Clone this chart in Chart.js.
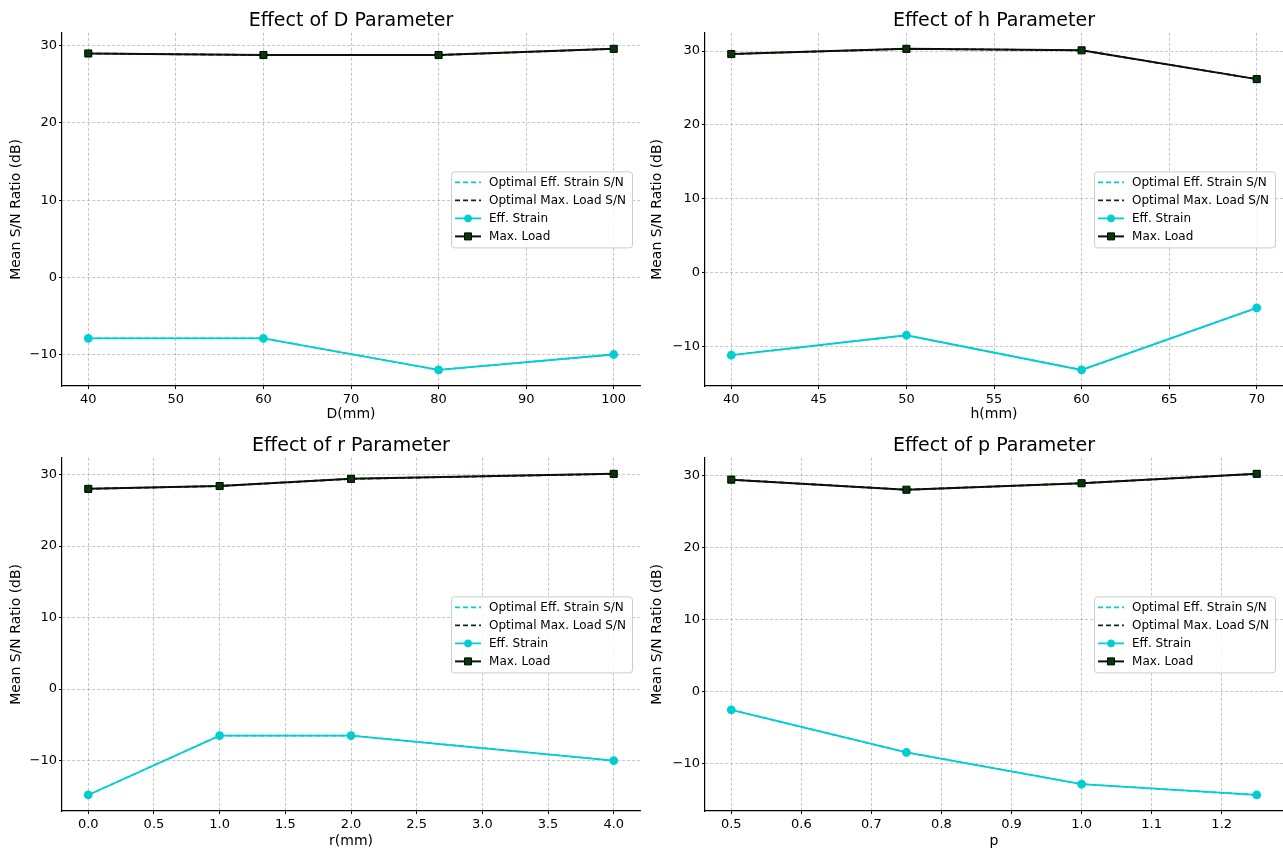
<!DOCTYPE html>
<html>
<head>
<meta charset="utf-8">
<script src="https://cdn.jsdelivr.net/npm/chart.js@4.4.0/dist/chart.umd.min.js"></script>
<style>
  body { margin: 0; background: #fff; width: 1283px; height: 851px; position: relative; overflow: hidden; }
  .panel { position: absolute; }
</style>
</head>
<body>
<div class="panel" style="left:0;top:0"><canvas id="cD" width="642" height="425"></canvas></div>
<div class="panel" style="left:642px;top:0"><canvas id="cH" width="641" height="425"></canvas></div>
<div class="panel" style="left:0;top:425px"><canvas id="cR" width="642" height="426"></canvas></div>
<div class="panel" style="left:642px;top:425px"><canvas id="cP" width="641" height="426"></canvas></div>
<script>
// values
const dLevels = [40, 60, 80, 100];
const dStrain = [-7.9, -7.9, -12.0, -10.0];
const dLoad = [29.0, 28.8, 28.8, 29.6];
const dTicks = [40, 50, 60, 70, 80, 90, 100];

const hLevels = [40, 50, 60, 70];
const hStrain = [-11.2, -8.5, -13.2, -4.8];
const hLoad = [29.6, 30.3, 30.1, 26.2];
const hTicks = [40, 45, 50, 55, 60, 65, 70];

const rLevels = [0, 1, 2, 4];
const rStrain = [-14.8, -6.5, -6.5, -10.0];
const rLoad = [28.0, 28.4, 29.4, 30.1];
const rTicks = [0, 0.5, 1, 1.5, 2, 2.5, 3, 3.5, 4];

const pLevels = [0.5, 0.75, 1.0, 1.25];
const pStrain = [-2.5, -8.4, -12.8, -14.3];
const pLoad = [29.4, 28.0, 28.9, 30.2];
const pTicks = [0.5, 0.6, 0.7, 0.8, 0.9, 1.0, 1.1, 1.2];

const yTicks = [-10, 0, 10, 20, 30];
const legendLabels = ['Optimal Eff. Strain S/N', 'Optimal Max. Load S/N', 'Eff. Strain', 'Max. Load'];

const CYAN = '#00CED1';
const LOAD_LINE = '#061406';
const LOAD_MARK = '#063806';
const GRID = 'rgba(160,160,160,0.75)';

Chart.defaults.font.family = '"DejaVu Sans", sans-serif';
Chart.defaults.color = '#000';

// matplotlib style 5% margins
function padRange(vals) {
  const lo = Math.min(...vals), hi = Math.max(...vals);
  const m = (hi - lo) * 0.05;
  return [lo - m, hi + m];
}

function fmt(v, dec) {
  return Number(v).toFixed(dec).replace('-', '\u2212');
}

// legend box drawn inside the plot, centre right like matplotlib
const legendBox = {
  id: 'legendBox',
  afterDraw(chart) {
    const { ctx, chartArea } = chart;
    const ds = chart.data.datasets;
    ctx.save();
    ctx.font = '12px "DejaVu Sans"';
    const textW = Math.max(...ds.map(d => ctx.measureText(d.label).width));
    const w = 38 + textW + 6, h = 76;
    const x = chartArea.right - 8 - w;
    const y = (chartArea.top + chartArea.bottom) / 2 - h / 2;
    ctx.beginPath();
    ctx.roundRect(x + 0.5, y + 0.5, w, h, 3);
    ctx.fillStyle = 'rgba(255,255,255,0.85)';
    ctx.fill();
    ctx.strokeStyle = '#cccccc';
    ctx.lineWidth = 1;
    ctx.stroke();
    ds.forEach((d, i) => {
      const cy = y + 11 + i * 18;
      ctx.beginPath();
      ctx.setLineDash(d.borderDash || []);
      ctx.strokeStyle = d.borderColor;
      ctx.lineWidth = d.borderWidth;
      ctx.moveTo(x + 4, cy);
      ctx.lineTo(x + 30, cy);
      ctx.stroke();
      ctx.setLineDash([]);
      if (d.pointRadius) {
        ctx.fillStyle = d.pointBackgroundColor;
        ctx.strokeStyle = d.pointBorderColor;
        ctx.lineWidth = 1;
        ctx.beginPath();
        if (d.pointStyle === 'rect') {
          ctx.rect(x + 17 - 3.5, cy - 3.5, 7, 7);
        } else {
          ctx.arc(x + 17, cy, 3.5, 0, Math.PI * 2);
        }
        ctx.fill();
        ctx.stroke();
      }
      ctx.fillStyle = '#000';
      ctx.textBaseline = 'middle';
      ctx.fillText(d.label, x + 38, cy);
    });
    ctx.restore();
  }
};

function makeChart(id, title, xLabel, levels, strain, load, xTicks, dec, yAxisW, xAxisH, padRight, yTitlePad, xTitlePad) {
  const strainPts = levels.map((x, i) => ({ x, y: strain[i] }));
  const loadPts = levels.map((x, i) => ({ x, y: load[i] }));
  const xr = padRange(levels);
  const yr = padRange(strain.concat(load));

  const gridOpts = { color: GRID, lineWidth: 0.8, drawTicks: true, tickLength: 3, tickColor: '#000', tickWidth: 1 };

  return new Chart(document.getElementById(id), {
    type: 'line',
    data: {
      datasets: [
        { label: legendLabels[0], data: strainPts, borderColor: CYAN, borderWidth: 1.6, borderDash: [5, 3], pointRadius: 0, order: 1 },
        { label: legendLabels[1], data: loadPts, borderColor: '#122a12', borderWidth: 1.8, borderDash: [5, 3], pointRadius: 0, order: 1 },
        { label: legendLabels[2], data: strainPts, borderColor: CYAN, borderWidth: 1.8,
          pointStyle: 'circle', pointRadius: 3.5, pointBackgroundColor: CYAN, pointBorderColor: CYAN, order: 0 },
        { label: legendLabels[3], data: loadPts, borderColor: LOAD_LINE, borderWidth: 2,
          pointStyle: 'rect', pointRadius: 5, pointBackgroundColor: LOAD_MARK, pointBorderColor: '#000', pointBorderWidth: 1, order: 0 }
      ]
    },
    options: {
      responsive: false,
      animation: false,
      events: [],
      layout: { autoPadding: false, padding: { left: 0, right: padRight, top: 0, bottom: 0 } },
      plugins: {
        legend: { display: false },
        tooltip: { enabled: false },
        title: {
          display: true, text: title, fullSize: false, color: '#000',
          font: { size: 19, weight: 'normal' }, padding: { top: 10, bottom: 0 }
        }
      },
      scales: {
        x: {
          type: 'linear', min: xr[0], max: xr[1],
          afterBuildTicks: s => { s.ticks = xTicks.map(v => ({ value: v })); },
          afterFit: s => { s.height = xAxisH; s.paddingLeft = 0; s.paddingRight = 0; },
          ticks: { font: { size: 13 }, color: '#000', padding: 3, maxRotation: 0, autoSkip: false,
                   callback: v => fmt(v, dec) },
          grid: gridOpts,
          border: { display: true, color: '#000', width: 1.2, dash: [3, 2] },
          title: { display: true, text: xLabel, color: '#000', font: { size: 14 }, padding: { top: 0, bottom: xTitlePad } }
        },
        y: {
          type: 'linear', min: yr[0], max: yr[1],
          afterBuildTicks: s => { s.ticks = yTicks.map(v => ({ value: v })); },
          afterFit: s => { s.width = yAxisW; s.paddingTop = 0; s.paddingBottom = 0; },
          ticks: { font: { size: 13 }, color: '#000', padding: 2, callback: v => fmt(v, 0) },
          grid: gridOpts,
          border: { display: true, color: '#000', width: 1.2, dash: [3, 2] },
          title: { display: true, text: 'Mean S/N Ratio (dB)', color: '#000', font: { size: 14 }, padding: { top: yTitlePad, bottom: 0 } }
        }
      }
    },
    plugins: [legendBox]
  });
}

makeChart('cD', 'Effect of D Parameter', 'D(mm)', dLevels, dStrain, dLoad, dTicks, 0, 62, 39, 2, 8, 2);
makeChart('cH', 'Effect of h Parameter', 'h(mm)', hLevels, hStrain, hLoad, hTicks, 0, 63, 39, 0, 7, 2);
makeChart('cR', 'Effect of r Parameter', 'r(mm)', rLevels, rStrain, rLoad, rTicks, 1, 62, 40, 2, 8, 1);
makeChart('cP', 'Effect of p Parameter', 'p', pLevels, pStrain, pLoad, pTicks, 1, 63, 40, 0, 7, 1);
</script>
</body>
</html>
